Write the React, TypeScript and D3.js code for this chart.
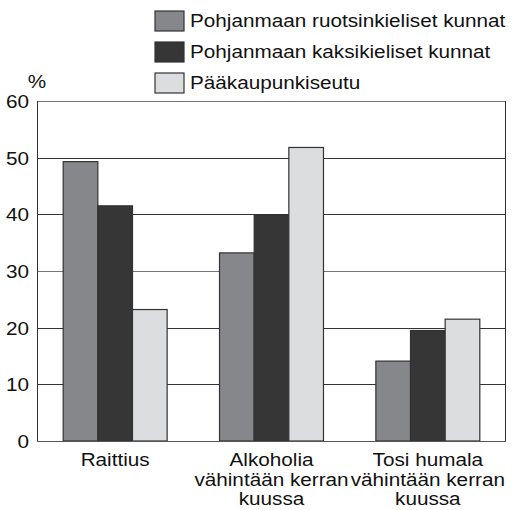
import React, { useEffect, useRef } from "react";
import * as d3 from "d3";

// categories (each label split into lines)
const categories = [
  ["Raittius"],
  ["Alkoholia", "vähintään kerran", "kuussa"],
  ["Tosi humala", "vähintään kerran", "kuussa"],
];
const seriesNames = [
  "Pohjanmaan ruotsinkieliset kunnat",
  "Pohjanmaan kaksikieliset kunnat",
  "Pääkaupunkiseutu",
];
const seriesColors = ["#86878b", "#363636", "#dcdddf"];
const ruotsinkieliset = [49.3, 33.2, 14.1];
const kaksikieliset = [41.5, 39.9, 19.5];
const paakaupunkiseutu = [23.2, 51.8, 21.5];
const yTicks = [0, 10, 20, 30, 40, 50, 60];

const App = () => {
  const ref = useRef<SVGSVGElement>(null);

  useEffect(() => {
    const width = 516;
    const height = 510;
    const margin = { top: 101, right: 10, bottom: 69, left: 37 };
    const font = "'Liberation Sans', Arial, Helvetica, sans-serif";
    const fs = 18.5;
    const sx = 1.12; // the original lettering is a bit wider than Arial

    const svg = d3.select(ref.current);
    svg.selectAll("*").remove();
    svg.attr("width", width).attr("height", height).style("font-family", font);

    const series = [ruotsinkieliset, kaksikieliset, paakaupunkiseutu];

    const x0 = d3
      .scaleBand<number>()
      .domain(d3.range(categories.length))
      .range([margin.left, width - margin.right])
      .paddingInner(0.335)
      .paddingOuter(0.1675);
    const x1 = d3
      .scaleBand<number>()
      .domain(d3.range(series.length))
      .range([0, x0.bandwidth()]);
    const y = d3
      .scaleLinear()
      .domain([0, 60])
      .range([height - margin.bottom, margin.top]);

    const left = margin.left;
    const right = width - margin.right;

    const label = (
      g: d3.Selection<any, any, any, any>,
      x: number,
      yy: number,
      txt: string,
      anchor = "start"
    ) =>
      g
        .append("text")
        .attr("transform", `translate(${x},${yy}) scale(${sx},1)`)
        .attr("text-anchor", anchor)
        .attr("font-size", fs)
        .attr("fill", "#111")
        .text(txt);

    // gridlines
    svg
      .append("g")
      .selectAll("line")
      .data(yTicks.filter((d) => d > 0))
      .join("line")
      .attr("x1", left)
      .attr("x2", right)
      .attr("y1", (d) => Math.round(y(d)) + 0.5)
      .attr("y2", (d) => Math.round(y(d)) + 0.5)
      .attr("stroke", (d) => (d === 30 || d === 60 ? "#777" : "#333"))
      .attr("stroke-width", 1);

    // frame sides
    [left + 0.5, right - 0.5].forEach((xx) =>
      svg
        .append("line")
        .attr("x1", xx)
        .attr("x2", xx)
        .attr("y1", y(60))
        .attr("y2", y(0))
        .attr("stroke", "#333")
    );

    // bars
    const groups = svg
      .append("g")
      .selectAll("g")
      .data(categories.map((_, i) => i))
      .join("g")
      .attr("transform", (i) => `translate(${x0(i)},0)`);

    groups
      .selectAll("rect")
      .data((i) => series.map((s, k) => ({ k, v: s[i] })))
      .join("rect")
      .attr("x", (d) => x1(d.k)!)
      .attr("y", (d) => y(d.v))
      .attr("width", x1.bandwidth())
      .attr("height", (d) => y(0) - y(d.v))
      .attr("fill", (d) => seriesColors[d.k])
      .attr("stroke", "#333")
      .attr("stroke-width", 1.2);

    // baseline
    svg
      .append("line")
      .attr("x1", left)
      .attr("x2", right)
      .attr("y1", y(0) + 0.5)
      .attr("y2", y(0) + 0.5)
      .attr("stroke", "#555")
      .attr("stroke-width", 1.2);

    // y tick labels
    const yLab = svg.append("g");
    yTicks.forEach((d) => label(yLab, 29, y(d) + 7, String(d), "end"));
    label(svg, 37, 88, "%", "middle");

    // category labels
    const cat = svg.append("g");
    categories.forEach((lines, i) =>
      lines.forEach((l, j) =>
        label(cat, x0(i)! + x0.bandwidth() / 2, 466 + j * 19.5, l, "middle")
      )
    );

    // legend
    const legend = svg.append("g");
    seriesNames.forEach((name, k) => {
      const ly = 11 + k * 31;
      legend
        .append("rect")
        .attr("x", 155)
        .attr("y", ly)
        .attr("width", 29)
        .attr("height", 20)
        .attr("fill", seriesColors[k])
        .attr("stroke", "#333")
        .attr("stroke-width", 1.2);
      label(legend, 190, ly + 15.5, name);
    });
  }, []);

  return <svg ref={ref} style={{ position: "absolute", left: 0, top: 0 }}></svg>;
};

export default App;
